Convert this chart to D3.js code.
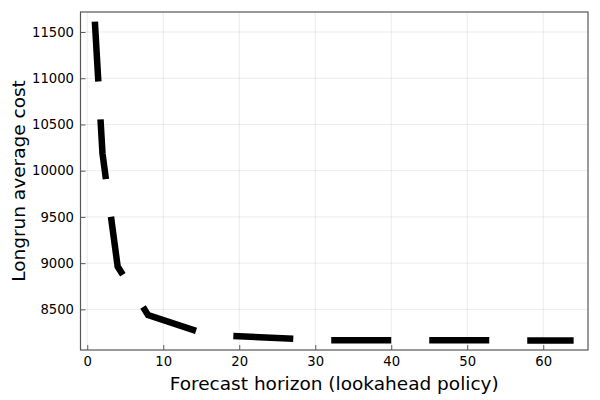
<!DOCTYPE html>
<html>
<head>
<meta charset="utf-8">
<script src="https://cdn.jsdelivr.net/npm/d3@7"></script>
<style>
  body { margin: 0; background: #fff; }
  text { font-family: "DejaVu Sans", sans-serif; fill: #000; }
</style>
</head>
<body>
<svg width="600" height="400"></svg>
<script>
// forecast horizon vs longrun average cost
var horizons = [1, 2, 4, 8, 16, 32, 64];
var costs = [11613, 10188, 8963, 8438, 8222, 8166, 8164];
var xTicks = [0, 10, 20, 30, 40, 50, 60];
var yTicks = [8500, 9000, 9500, 10000, 10500, 11000, 11500];

var svg = d3.select("svg");
var plotL = 80.5, plotR = 588, plotT = 12, plotB = 350;

// julia style 3% padding on both ends
var xPad = (d3.max(horizons) - d3.min(horizons)) * 0.03;
var yPad = (d3.max(costs) - d3.min(costs)) * 0.03;
var x = d3.scaleLinear()
  .domain([d3.min(horizons) - xPad, d3.max(horizons) + xPad])
  .range([plotL, plotR]);
var y = d3.scaleLinear()
  .domain([d3.min(costs) - yPad, d3.max(costs) + yPad])
  .range([plotB, plotT]);

// grid
svg.append("g")
  .selectAll("line")
  .data(xTicks)
  .enter().append("line")
  .attr("x1", function(d) { return x(d); })
  .attr("x2", function(d) { return x(d); })
  .attr("y1", plotT).attr("y2", plotB)
  .attr("stroke", "#000").attr("stroke-opacity", 0.1).attr("stroke-width", 0.8);
svg.append("g")
  .selectAll("line")
  .data(yTicks)
  .enter().append("line")
  .attr("y1", function(d) { return y(d); })
  .attr("y2", function(d) { return y(d); })
  .attr("x1", plotL).attr("x2", plotR)
  .attr("stroke", "#000").attr("stroke-opacity", 0.1).attr("stroke-width", 0.8);

// axes (ticks point inward)
var xAxis = svg.append("g")
  .attr("transform", "translate(0," + plotB + ")")
  .call(d3.axisBottom(x).tickValues(xTicks).tickSizeInner(-5).tickSizeOuter(0).tickPadding(7));
var yAxis = svg.append("g")
  .attr("transform", "translate(" + plotL + ",0)")
  .call(d3.axisLeft(y).tickValues(yTicks).tickFormat(d3.format("d")).tickSizeInner(-5).tickSizeOuter(0).tickPadding(6.5));
[xAxis, yAxis].forEach(function(a) {
  a.attr("font-size", 13.2).attr("font-family", "DejaVu Sans");
  a.select(".domain").remove();
  a.selectAll(".tick line").attr("stroke", "#333").attr("stroke-width", 0.8);
});

// frame
svg.append("rect")
  .attr("x", plotL).attr("y", plotT)
  .attr("width", plotR - plotL).attr("height", plotB - plotT)
  .attr("fill", "none").attr("stroke", "#555").attr("stroke-width", 1.2);

// dashed line
var line = d3.line()
  .x(function(d, i) { return x(horizons[i]); })
  .y(function(d) { return y(d); });
svg.append("path")
  .datum(costs)
  .attr("d", line)
  .attr("fill", "none")
  .attr("stroke", "#000")
  .attr("stroke-width", 6.5)
  .attr("stroke-dasharray", "60,38")
  .attr("stroke-linejoin", "miter");

// labels
svg.append("text")
  .attr("x", (plotL + plotR) / 2).attr("y", 390)
  .attr("text-anchor", "middle")
  .attr("font-size", 18.5)
  .text("Forecast horizon (lookahead policy)");
svg.append("text")
  .attr("transform", "translate(25," + (plotT + plotB) / 2 + ") rotate(-90)")
  .attr("text-anchor", "middle")
  .attr("font-size", 18.5)
  .text("Longrun average cost");
</script>
</body>
</html>
